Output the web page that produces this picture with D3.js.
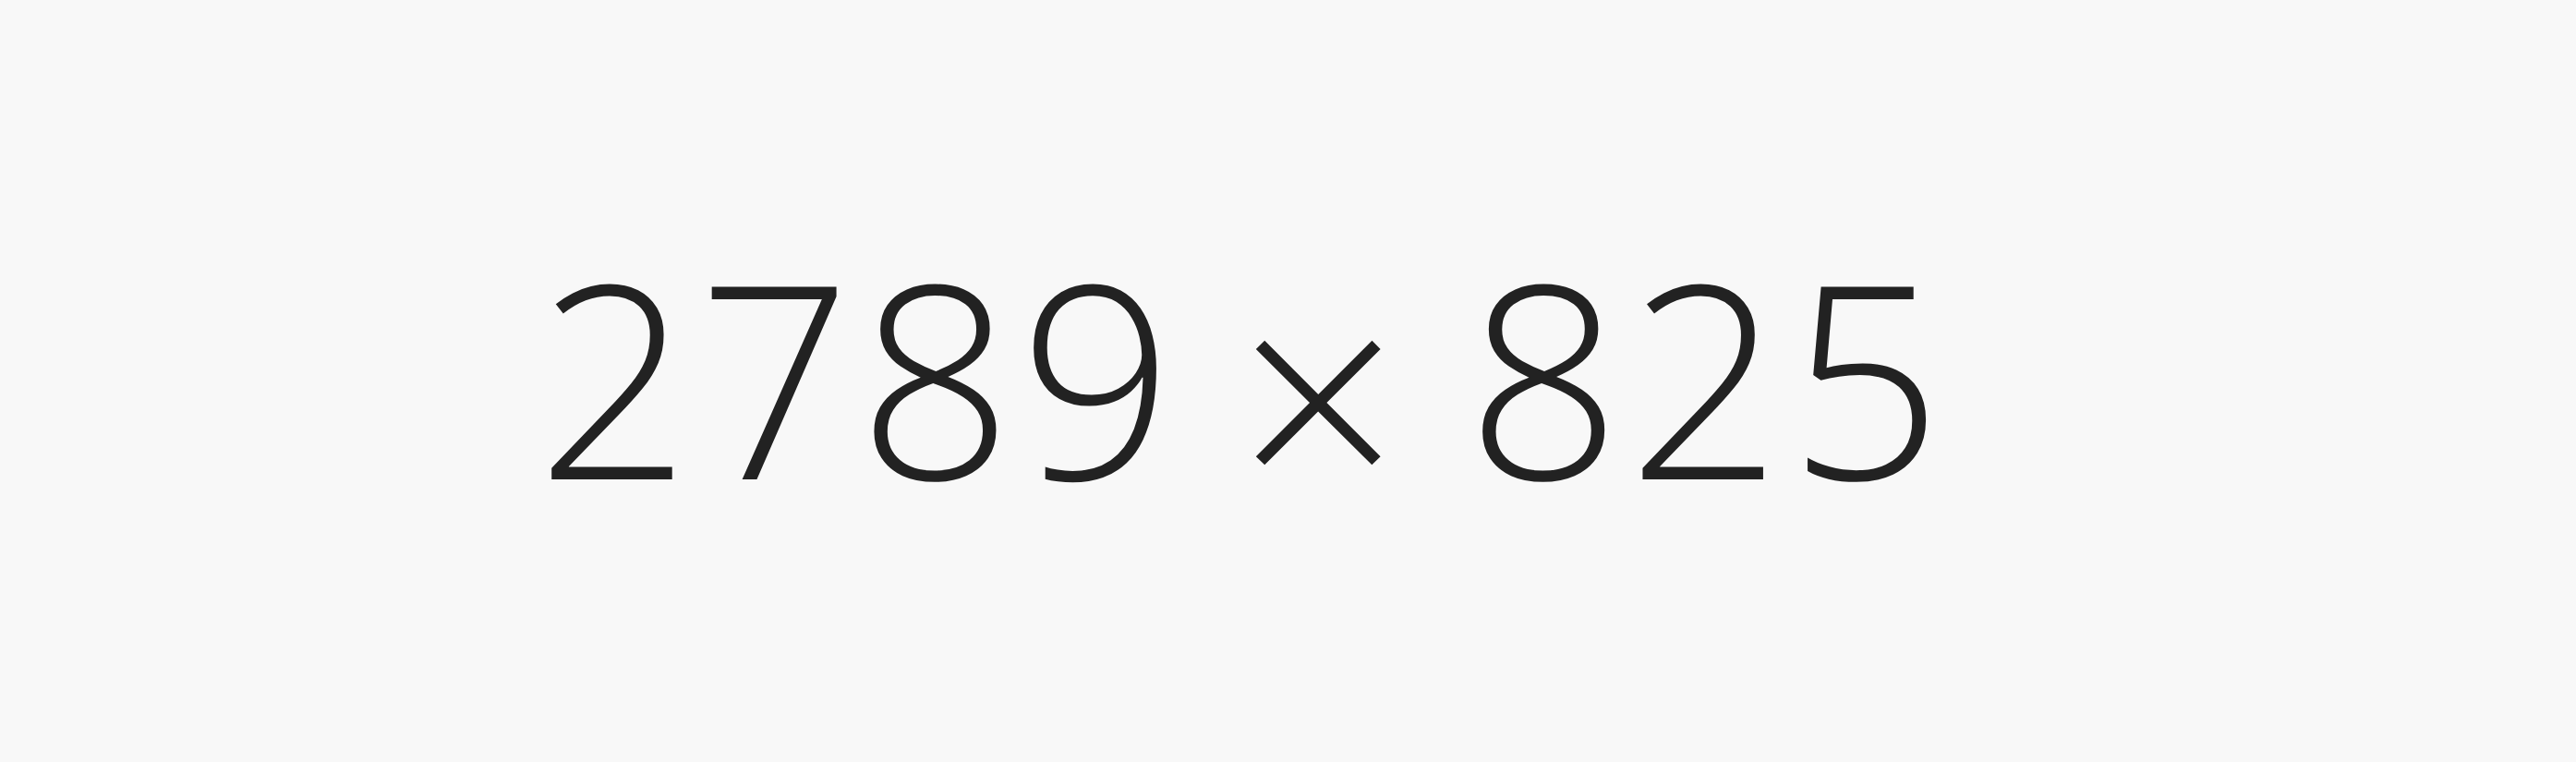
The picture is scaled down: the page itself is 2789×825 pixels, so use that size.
<!DOCTYPE html>
<html>
<head>
<meta charset="utf-8">
<script src="https://cdn.jsdelivr.net/npm/d3@7"></script>
<style>
  html, body { margin: 0; padding: 0; background: #f8f8f8; }
  svg { display: block; }
</style>
</head>
<body>
<script>
// placeholder size, shown as "w × h"
const dims = [2789, 825];
const sep = "×";

const W = 2789, H = 825;
const FONT = "'Open Sans', 'Noto Sans', sans-serif";
const SIZE = 292;      // digit height ~208px
const TRACK = 7.5;     // digits sit a bit wider apart than Open Sans does
const BASE = 519;

// where the ink of each part should sit (centre x)
const parts = [
  {text: String(dims[0]), cx: 924.5, size: SIZE, track: TRACK},
  {text: sep,             cx: 1428.5, cy: 436.5, w: 141, track: 0},
  {text: String(dims[1]), cx: 1844.5, size: SIZE, track: TRACK}
];

// measure real ink with a canvas so the svg text can be placed by its ink
const ctx = document.createElement("canvas").getContext("2d");
function ink(str, size) {
  ctx.font = "300 " + size + "px " + FONT;
  return ctx.measureText(str);
}

// the times sign is drawn larger and lower than the font has it
const mx = ink(sep, SIZE);
parts[1].size = SIZE * parts[1].w / (mx.actualBoundingBoxLeft + mx.actualBoundingBoxRight);

parts.forEach(p => {
  const m = ink(p.text, p.size);
  const n = p.text.length;
  p.x = p.cx - (m.actualBoundingBoxRight - m.actualBoundingBoxLeft) / 2 - (n - 1) * p.track / 2;
  p.y = p.cy == null ? BASE
    : p.cy + (m.actualBoundingBoxAscent - m.actualBoundingBoxDescent) / 2;
});

const svg = d3.select("body").append("svg")
  .attr("width", W)
  .attr("height", H);

svg.append("rect")
  .attr("width", W)
  .attr("height", H)
  .attr("fill", "#f8f8f8");

svg.selectAll("text.part")
  .data(parts)
  .enter()
  .append("text")
  .attr("class", "part")
  .attr("x", d => d.x)
  .attr("y", d => d.y)
  .attr("font-family", FONT)
  .attr("font-weight", 300)
  .attr("font-size", d => d.size)
  .attr("letter-spacing", d => d.track)
  .attr("fill", "#222")
  .text(d => d.text);
</script>
</body>
</html>
